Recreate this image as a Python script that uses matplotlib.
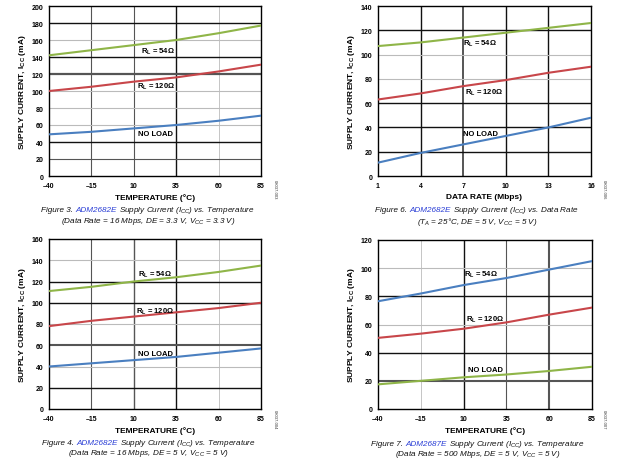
import matplotlib
matplotlib.use("Agg")
from matplotlib import pyplot as plt

plt.rcParams['font.family'] = ['Liberation Sans', 'DejaVu Sans']
plt.rcParams['mathtext.default'] = 'regular'

# data
temp = [-40, -15, 10, 35, 60, 85]
rate = [1, 4, 7, 10, 13, 16]

f3_54 = [142, 148, 154, 160, 168, 177]
f3_120 = [100, 105, 111, 116, 123, 131]
f3_noload = [49, 52, 56, 60, 65, 71]

f6_54 = [107, 110, 114, 118, 122, 126]
f6_120 = [63, 68, 74, 79, 85, 90]
f6_noload = [11, 19, 26, 33, 40, 48]

f4_54 = [111, 115, 120, 124, 129, 135]
f4_120 = [78, 83, 87, 91, 95, 100]
f4_noload = [40, 43, 46, 49, 53, 57]

f7_54 = [76.5, 82, 88, 93, 99, 105]
f7_120 = [50.5, 53.5, 57, 61.5, 67, 72]
f7_noload = [17.5, 20, 22.5, 24.5, 27, 30]

GREEN = '#8fb548'
RED = '#c8464a'
BLUE = '#4a7fc0'
LINKBLUE = '#2b3fd6'

fig = plt.figure(figsize=(6.19, 4.64), dpi=100)
W, H = 619, 464


def px_axes(l, t, r, b):
    return fig.add_axes([l / W, 1 - b / H, (r - l) / W, (b - t) / H])


def panel(ax, x, series, xlim, xticks, ylim, ystep, xlabel, labels,
          vgrey, hgrey):
    for y, c in series:
        ax.plot(x, y, color=c, lw=1.5, zorder=3)
    ax.set_xlim(xlim)
    ax.set_ylim(ylim)
    ax.set_xticks(xticks)
    yt = list(range(ylim[0], ylim[1] + 1, ystep))
    ax.set_yticks(yt)
    ax.set_xticklabels(['\u2013' + str(-v) if v < 0 else str(v) for v in xticks])
    # gridlines, grey levels vary like the scan (bottom-up / left-right)
    for v, (g, w) in zip(xticks[1:-1], vgrey):
        ax.axvline(v, color=g, lw=w, zorder=1)
    for v, (g, w) in zip(yt[1:-1], hgrey):
        ax.axhline(v, color=g, lw=w, zorder=1)
    ax.tick_params(length=0, labelsize=5, pad=4)
    for lab in ax.get_xticklabels() + ax.get_yticklabels():
        lab.set_fontweight('bold')
    for s in ax.spines.values():
        s.set_linewidth(1.0)
    ax.set_xlabel(xlabel, fontsize=6, fontweight='bold', labelpad=3)
    ax.set_ylabel('SUPPLY CURRENT, I$_{CC}$ (mA)', fontsize=6,
                  fontweight='bold', labelpad=3)
    for tx, ty, s in labels:
        ax.text(tx, ty, s, fontsize=5.5, fontweight='bold', ha='center',
                va='center', zorder=4)


def caption(xc, y, parts, size=5.9):
    r = fig.canvas.get_renderer()
    texts = [fig.text(0, y, s, color=c, fontsize=size, style='italic',
                      va='center', ha='left') for s, c in parts]
    widths = [t.get_window_extent(r).width for t in texts]
    gap = 2.5
    x = xc - (sum(widths) + gap * (len(texts) - 1)) / 2
    for t, w in zip(texts, widths):
        t.set_x(x / W)
        x += w + gap


K = '#111111'
D = '#555555'
L = '#bbbbbb'

ax1 = px_axes(49, 7, 261, 177)
panel(ax1, temp, [(f3_54, GREEN), (f3_120, RED), (f3_noload, BLUE)],
      (-40, 85), temp, (0, 200), 20, 'TEMPERATURE (\u00b0C)',
      [(24, 147, 'R$_L$ = 54\u03a9'), (23, 106, 'R$_L$ = 120\u03a9'),
       (23, 50.5, 'NO LOAD')],
      [(D, 0.8), (D, 0.8), (K, 1.0), (L, 0.6)],
      [(D, 0.8), (K, 1.0), (L, 0.8), (L, 0.8), (L, 0.8), (D, 1.6),
       (K, 1.0), (L, 0.8), (K, 1.0)])

ax2 = px_axes(378, 7, 591, 177)
panel(ax2, rate, [(f6_54, GREEN), (f6_120, RED), (f6_noload, BLUE)],
      (1, 16), rate, (0, 140), 20, 'DATA RATE (Mbps)',
      [(8.2, 110, 'R$_L$ = 54\u03a9'), (8.5, 69, 'R$_L$ = 120\u03a9'),
       (8.2, 35, 'NO LOAD')],
      [(K, 1.0), (D, 1.4), (K, 1.0), (K, 1.0)],
      [(K, 1.0), (K, 1.0), (K, 1.0), (L, 0.8), (L, 0.8), (K, 1.0)])

ax3 = px_axes(49, 240, 261, 410)
panel(ax3, temp, [(f4_54, GREEN), (f4_120, RED), (f4_noload, BLUE)],
      (-40, 85), temp, (0, 160), 20, 'TEMPERATURE (\u00b0C)',
      [(22.5, 127, 'R$_L$ = 54\u03a9'), (22.5, 92, 'R$_L$ = 120\u03a9'),
       (22.5, 52, 'NO LOAD')],
      [(D, 0.8), (D, 1.0), (K, 1.0), (L, 0.6)],
      [(K, 1.0), (L, 0.8), (D, 1.5), (L, 0.8), (K, 1.0), (K, 1.0), (L, 0.8)])

ax4 = px_axes(378, 241, 592, 410)
panel(ax4, temp, [(f7_54, BLUE), (f7_120, RED), (f7_noload, GREEN)],
      (-40, 85), temp, (0, 120), 20, 'TEMPERATURE (\u00b0C)',
      [(20, 96, 'R$_L$ = 54\u03a9'), (22.5, 64, 'R$_L$ = 120\u03a9'),
       (22.5, 28.4, 'NO LOAD')],
      [(L, 0.6), (K, 1.0), (D, 0.8), (D, 1.5)],
      [(D, 1.5), (K, 1.0), (L, 0.8), (K, 1.0), (L, 0.8)])

# part numbers at the right edge of each plot
for x, y, s in [(275, 190, '08037-003'), (604, 190, '08037-006'),
                (275, 420, '08037-004'), (604, 420, '08037-007')]:
    fig.text(x / W, 1 - y / H, s, fontsize=3, rotation=-90, ha='center',
             va='center', color='#333333')

caption(148, 1 - 211 / H, [('Figure 3.', K), ('ADM2682E', LINKBLUE),
                           ('Supply Current (I$_{CC}$) vs. Temperature', K)])
caption(148, 1 - 222 / H, [('(Data Rate = 16 Mbps, DE = 3.3 V, V$_{CC}$ = 3.3 V)', K)])
caption(477, 1 - 211 / H, [('Figure 6.', K), ('ADM2682E', LINKBLUE),
                           ('Supply Current (I$_{CC}$) vs. Data Rate', K)])
caption(477, 1 - 222 / H, [('(T$_A$ = 25\u00b0C, DE = 5 V, V$_{CC}$ = 5 V)', K)])
caption(149, 1 - 444 / H, [('Figure 4.', K), ('ADM2682E', LINKBLUE),
                           ('Supply Current (I$_{CC}$) vs. Temperature', K)])
caption(149, 1 - 454 / H, [('(Data Rate = 16 Mbps, DE = 5 V, V$_{CC}$ = 5 V)', K)])
caption(478, 1 - 445 / H, [('Figure 7.', K), ('ADM2687E', LINKBLUE),
                           ('Supply Current (I$_{CC}$) vs. Temperature', K)])
caption(478, 1 - 455 / H, [('(Data Rate = 500 Mbps, DE = 5 V, V$_{CC}$ = 5 V)', K)])

fig.savefig('out.png', dpi=100)
